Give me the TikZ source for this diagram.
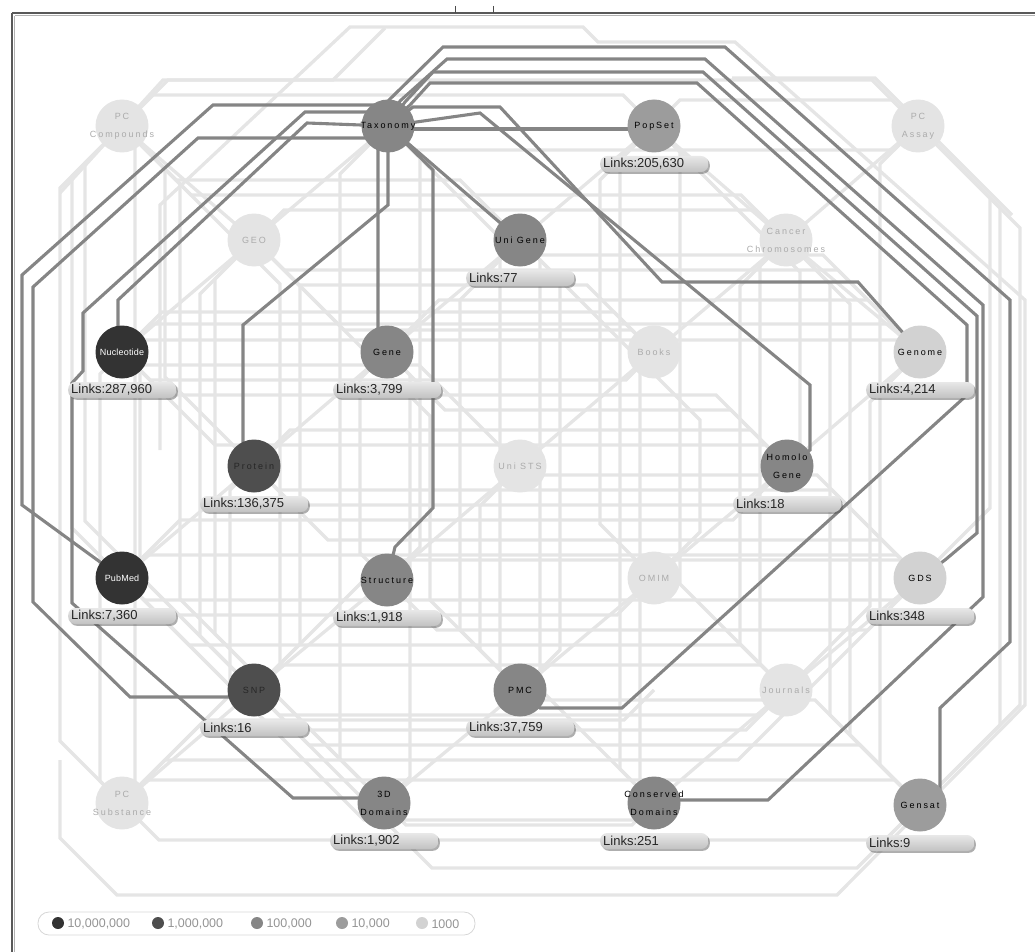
\documentclass[tikz,border=0pt]{standalone}
\usepackage{fontspec}
\setmainfont{Liberation Sans}
\newfontfamily\nodefont[LetterSpace=22]{Liberation Sans}
\newfontfamily\nodefontn[LetterSpace=2]{Liberation Sans}
\usetikzlibrary{shadows}
\pgfdeclarelayer{bg}
\pgfsetlayers{bg,main}
\definecolor{meshc}{HTML}{E5E5E5}
\definecolor{tlink}{HTML}{858585}
\definecolor{lvA}{HTML}{333333}
\definecolor{lvB}{HTML}{4E4E4E}
\definecolor{lvC}{HTML}{868686}
\definecolor{lvD}{HTML}{9C9C9C}
\definecolor{lvE}{HTML}{E4E4E4}
\definecolor{lvG}{HTML}{D2D2D2}
\definecolor{faint}{HTML}{ABABAB}
\newcommand\cl[1]{\makebox[0pt][c]{#1}}
\tikzset{
  meshline/.style={color=meshc, line width=3.3pt, line join=miter},
  tl/.style={color=tlink, line width=3.1pt, line join=miter},
  db/.style={circle, minimum size=53pt, inner sep=0pt, align=center,
     font=\nodefont\fontsize{9}{18}\selectfont},
  dbn/.style={db, font=\nodefontn\fontsize{9}{18}\selectfont},
  pill/.style={text width=102pt, align=left, inner xsep=3pt, inner ysep=0pt,
     minimum height=16pt, rounded corners=7pt, top color=black!9, bottom color=black!24,
     font=\fontsize{13}{14}\selectfont, text=black!85,
     drop shadow={shadow xshift=1.6pt, shadow yshift=-1.8pt, opacity=0.45, fill=black!70}},
  legtext/.style={anchor=west, text=black!42, font=\fontsize{12.5}{14}\selectfont},
  legdot/.style={circle, minimum size=12pt, inner sep=0pt}
}
\newcommand\hlane[5]{%
  \pgfmathsetmacro\mysg{sign(#3-#1)}%
  \pgfmathsetmacro\pxa{#1+\mysg*abs(#5-#2)}%
  \pgfmathsetmacro\pxb{#3-\mysg*abs(#5-#4)}%
  \draw[meshline] (#1,#2) -- (\pxa,#5) -- (\pxb,#5) -- (#3,#4);}
\newcommand\vlane[5]{%
  \pgfmathsetmacro\mysg{sign(#4-#2)}%
  \pgfmathsetmacro\pya{#2+\mysg*abs(#5-#1)}%
  \pgfmathsetmacro\pyb{#4-\mysg*abs(#5-#3)}%
  \draw[meshline] (#1,#2) -- (#5,\pya) -- (#5,\pyb) -- (#3,#4);}
\newcommand\pill[2]{\node[pill, anchor=west] (#1-l) at ([xshift=-54pt,yshift=-38pt]#1.center) {#2};}
\begin{document}
\begin{tikzpicture}[x=1pt,y=-1pt]
\useasboundingbox (0,0) rectangle (1035,952);
% frame
\draw[color=black!30, line width=1pt] (14.5,16) -- (1035,16);
\draw[color=black!30, line width=1pt] (14.5,16) -- (14.5,952);
\draw[color=black!65, line width=1.5pt] (12,13) -- (1035,13);
\draw[color=black!65, line width=1.5pt] (12,13) -- (12,952);
\draw[color=black!70, line width=0.8pt] (455,6) -- (455,13) (493,6) -- (493,13);

% nodes
\node[db, fill=lvE, text=faint] (pcc) at (122,126) {\cl{PC}\\\cl{Compounds}};
\node[db, fill=lvC, text=black] (tax) at (388,126) {\cl{Taxonomy}};
\node[db, fill=lvD, text=black] (pop) at (654,126) {\cl{PopSet}};
\node[db, fill=lvE, text=faint] (pca) at (918,126) {\cl{PC}\\\cl{Assay}};
\node[db, fill=lvE, text=faint] (geo) at (254,240) {\cl{GEO}};
\node[db, fill=lvC, text=black] (ug) at (520,240) {\cl{Uni Gene}};
\node[db, fill=lvE, text=faint] (cc) at (786,240) {\cl{Cancer}\\\cl{Chromosomes}};
\node[dbn, fill=lvA, text=white] (nuc) at (122,352) {\cl{Nucleotide}};
\node[db, fill=lvC, text=black] (gene) at (387,352) {\cl{Gene}};
\node[db, fill=lvE, text=faint] (books) at (654,352) {\cl{Books}};
\node[db, fill=lvG, text=black] (genome) at (920,352) {\cl{Genome}};
\node[db, fill=lvB, text=black!85] (prot) at (254,466) {\cl{Protein}};
\node[db, fill=lvE, text=faint] (sts) at (520,466) {\cl{Uni STS}};
\node[db, fill=lvC, text=black] (hg) at (787,466) {\cl{Homolo}\\\cl{Gene}};
\node[dbn, fill=lvA, text=white] (pubmed) at (122,578) {\cl{PubMed}};
\node[db, fill=lvC, text=black] (struct) at (387,580) {\cl{Structure}};
\node[db, fill=lvE, text=faint] (omim) at (654,578) {\cl{OMIM}};
\node[db, fill=lvG, text=black] (gds) at (920,578) {\cl{GDS}};
\node[db, fill=lvB, text=black!85] (snp) at (254,690) {\cl{SNP}};
\node[db, fill=lvC, text=black] (pmc) at (520,690) {\cl{PMC}};
\node[db, fill=lvE, text=faint] (jour) at (786,690) {\cl{Journals}};
\node[db, fill=lvE, text=faint] (pcs) at (122,803) {\cl{PC}\\\cl{Substance}};
\node[db, fill=lvC, text=black] (d3) at (384,803) {\cl{3D}\\\cl{Domains}};
\node[db, fill=lvC, text=black] (cdd) at (654,803) {\cl{Conserved}\\\cl{Domains}};
\node[db, fill=lvD, text=black] (gensat) at (920,805) {\cl{Gensat}};

% link count labels
\pill{pop}{Links:205,630}
\pill{ug}{Links:77}
\pill{nuc}{Links:287,960}
\pill{gene}{Links:3,799}
\pill{genome}{Links:4,214}
\pill{prot}{Links:136,375}
\pill{hg}{Links:18}
\pill{pubmed}{Links:7,360}
\pill{struct}{Links:1,918}
\pill{gds}{Links:348}
\pill{snp}{Links:16}
\pill{pmc}{Links:37,759}
\pill{d3}{Links:1,902}
\pill{cdd}{Links:251}
\pill{gensat}{Links:9}

% legend
\node[draw=black!16, line width=0.8pt, rounded corners=11pt, minimum width=437pt, minimum height=23pt] (legend) at (256.5,923.5) {};
\node[legdot, fill=lvA] (lg1) at (58,923) {};
\node[legtext] (lt1) at (64,924) {10,000,000};
\node[legdot, fill=lvB] (lg2) at (158,923) {};
\node[legtext] (lt2) at (164,924) {1,000,000};
\node[legdot, fill=lvC] (lg3) at (257,923) {};
\node[legtext] (lt3) at (263,924) {100,000};
\node[legdot, fill=lvD] (lg4) at (342,923) {};
\node[legtext] (lt4) at (348,924) {10,000};
\node[legdot, fill=lvG] (lg5) at (422,923) {};
\node[legtext] (lt5) at (428,924) {1000};

\begin{pgfonlayer}{bg}
% light mesh of all other links
\foreach \a/\b/\c/\d/\e in {
122/126/654/126/95, 122/126/918/126/80, 388/126/918/126/150, 654/126/918/126/100,
122/126/520/240/180, 122/126/786/240/195, 254/240/786/240/210, 254/240/920/352/270,
254/240/654/352/285, 254/240/654/352/330, 122/352/920/352/324, 122/352/654/352/312,
122/352/920/352/340, 387/352/920/352/300, 122/352/787/466/395, 122/352/654/352/380,
387/352/787/466/410, 122/352/520/466/365, 254/466/787/466/430, 254/466/787/466/505,
122/352/787/466/445, 254/466/920/578/490, 122/578/787/466/520, 254/466/920/578/540,
122/578/920/578/555, 122/578/920/578/600, 122/578/654/578/615, 387/580/920/578/630,
122/578/786/690/645, 254/690/920/578/560, 254/690/786/690/665, 254/690/786/690/715,
122/578/786/690/730, 122/803/920/578/760, 254/690/920/805/745, 122/803/654/690/720,
122/803/920/805/780, 122/803/920/805/840, 254/690/920/805/868, 384/803/654/803/825,
122/578/654/803/820, 520/240/920/352/255, 520/466/920/578/475, 520/690/920/805/700}
  {\hlane{\a}{\b}{\c}{\d}{\e}}
\foreach \a/\b/\c/\d/\e in {
122/126/122/803/60, 122/126/122/578/72, 122/126/254/690/85, 122/352/122/803/100,
122/126/254/466/165, 122/352/254/690/140, 122/126/122/803/135, 254/240/254/690/200,
254/240/384/803/215, 254/240/254/690/300, 122/126/254/690/280, 254/466/122/803/230,
388/126/384/803/340, 387/352/387/580/360, 388/126/387/580/420, 387/352/384/803/410,
254/240/520/690/430, 520/240/520/690/460, 520/240/520/690/560, 520/240/654/803/540,
388/126/520/690/500, 520/466/520/690/480, 654/126/654/578/600, 654/126/654/803/620,
654/352/654/803/640, 520/240/654/578/700, 654/126/786/690/680, 786/240/786/690/760,
786/240/786/690/740, 654/126/787/466/800, 786/240/920/805/830, 786/240/920/805/850,
918/126/920/805/880, 918/126/920/578/990, 918/126/920/805/1000, 918/126/920/805/1020,
920/352/786/690/870, 122/126/384/803/180}
  {\vlane{\a}{\b}{\c}{\d}{\e}}
\foreach \a/\b/\c/\d in {
122/126/254/240, 254/240/388/126, 520/240/654/126, 654/126/786/240, 786/240/918/126,
122/352/254/240, 387/352/520/240, 654/352/786/240, 786/240/920/352,
254/466/387/352, 520/466/654/352, 787/466/920/352,
122/578/254/466, 387/580/520/466, 654/578/787/466,
254/690/387/580, 520/690/654/578, 786/690/920/578,
122/803/254/690, 384/803/520/690, 654/803/786/690}
  {\draw[meshline] (\a,\b) -- (\c,\d);}
\draw[meshline] (160,450) -- (160,205) -- (350,27) -- (583,27) -- (598,42) -- (735,42)
   -- (1025,300) -- (1025,705) -- (837,895) -- (117,895) -- (60,838) -- (60,760);
\draw[meshline] (60,193) -- (163,80) -- (333,80) -- (385,28);
\draw[meshline] (732,78) -- (875,78) -- (1012,215);

% Taxonomy links
\draw[tl] (tax.center) -- (375,105) -- (213,105) -- (22,275) -- (22,505) -- (pubmed.center);
\draw[tl] (tax.center) -- (380,138) -- (198,138) -- (33,287) -- (33,602) -- (130,697) -- (230,697) -- (snp.center);
\draw[tl] (tax.center) -- (375,112) -- (305,112) -- (83,313) -- (83,371) -- (72,383) -- (72,603) -- (293,798) -- (370,798) -- (d3.center);
\draw[tl] (tax.center) -- (307,123) -- (118,300) -- (118,330) -- (nuc.center);
\draw[tl] ([yshift=-3pt]tax.center) -- ([yshift=-3pt]pop.center);
\draw[tl] (tax.center) -- (413,107) -- (500,107) -- (662,282) -- (858,282) -- (genome.center);
\draw[tl] (tax.center) -- (480,113) -- (810,385) -- (810,450) -- (hg.center);
\draw[tl] (tax.center) -- (ug.center);
\draw[tl] (tax.center) -- (378,140) -- (378,330) -- (gene.center);
\draw[tl] (tax.center) -- (388,205) -- (243,325) -- (243,445) -- (prot.center);
\draw[tl] (tax.center) -- (433,170) -- (433,508) -- (395,547) -- (struct.center);
\draw[tl] (tax.center) -- (389,100) -- (443,47) -- (725,47) -- (1010,300) -- (1010,642) -- (940,708) -- (940,790) -- (gensat.center);
\draw[tl] (tax.center) -- (400,101) -- (447,59) -- (705,59) -- (983,305) -- (983,597) -- (768,800) -- (680,800) -- (cdd.center);
\draw[tl] (tax.center) -- (405,102) -- (433,72) -- (703,72) -- (977,316) -- (977,533) -- (945,560) -- (gds.center);
\draw[tl] (tax.center) -- (410,105) -- (430,83) -- (697,83) -- (967,325) -- (967,395) -- (622,708) -- (540,708) -- (pmc.center);
\end{pgfonlayer}
\end{tikzpicture}
\end{document}
